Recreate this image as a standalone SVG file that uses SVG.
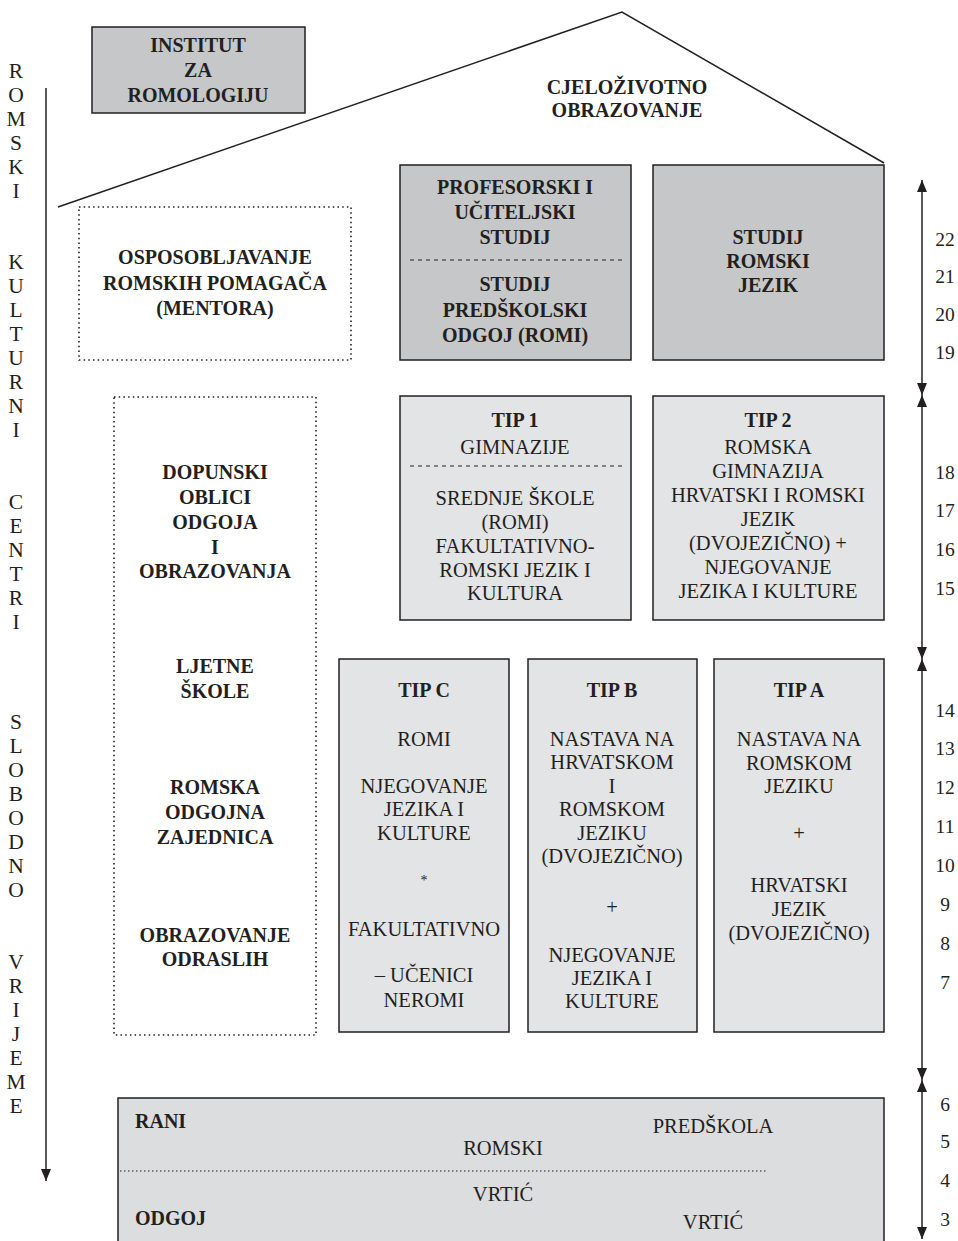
<svg xmlns="http://www.w3.org/2000/svg" width="958" height="1241" viewBox="0 0 958 1241">
<defs>
<style>
text{font-family:"Liberation Serif","DejaVu Serif",serif;fill:#231f20;font-size:20.5px}
.c{text-anchor:middle}
.b{font-weight:bold;font-size:20px}
.v{text-anchor:middle;font-size:21.5px}
.n{text-anchor:middle;font-size:19.5px}
.dark{fill:#c6c7c9;stroke:#231f20;stroke-width:1.5}
.light{fill:#e3e4e6;stroke:#231f20;stroke-width:1.5}
.dot{fill:none;stroke:#231f20;stroke-width:1.6;stroke-dasharray:1.5 3.2}
.dash{stroke:#231f20;stroke-width:1.2;stroke-dasharray:4 4}
.ln{stroke:#231f20;stroke-width:1.5;fill:none}
</style>
<marker id="ah" viewBox="0 0 12 10" refX="12" refY="5" markerWidth="12" markerHeight="10" markerUnits="userSpaceOnUse" orient="auto-start-reverse">
<path d="M0,0 L12,5 L0,10 z" fill="#231f20"/>
</marker>
</defs>

<g id="connectors">
<polyline class="ln" points="58,207 622,12 884,163"/>
<line class="ln" x1="46" y1="88" x2="46" y2="1181" marker-end="url(#ah)"/>
<line class="ln" x1="922" y1="180" x2="922" y2="395" marker-start="url(#ah)" marker-end="url(#ah)"/>
<line class="ln" x1="922" y1="395" x2="922" y2="659" marker-start="url(#ah)" marker-end="url(#ah)"/>
<line class="ln" x1="922" y1="659" x2="922" y2="1080" marker-start="url(#ah)" marker-end="url(#ah)"/>
<line class="ln" x1="922" y1="1080" x2="922" y2="1239" marker-start="url(#ah)" marker-end="url(#ah)"/>
</g>

<g id="side-left">
<text class="v" x="16" y="78">R</text>
<text class="v" x="16" y="102">O</text>
<text class="v" x="16" y="126">M</text>
<text class="v" x="16" y="150">S</text>
<text class="v" x="16" y="174">K</text>
<text class="v" x="16" y="198">I</text>
<text class="v" x="16" y="269">K</text>
<text class="v" x="16" y="293">U</text>
<text class="v" x="16" y="317">L</text>
<text class="v" x="16" y="341">T</text>
<text class="v" x="16" y="365">U</text>
<text class="v" x="16" y="389">R</text>
<text class="v" x="16" y="413">N</text>
<text class="v" x="16" y="437">I</text>
<text class="v" x="16" y="509">C</text>
<text class="v" x="16" y="533">E</text>
<text class="v" x="16" y="557">N</text>
<text class="v" x="16" y="581">T</text>
<text class="v" x="16" y="605">R</text>
<text class="v" x="16" y="629">I</text>
<text class="v" x="16" y="729">S</text>
<text class="v" x="16" y="753">L</text>
<text class="v" x="16" y="777">O</text>
<text class="v" x="16" y="801">B</text>
<text class="v" x="16" y="825">O</text>
<text class="v" x="16" y="849">D</text>
<text class="v" x="16" y="873">N</text>
<text class="v" x="16" y="897">O</text>
<text class="v" x="16" y="969">V</text>
<text class="v" x="16" y="993">R</text>
<text class="v" x="16" y="1017">I</text>
<text class="v" x="16" y="1041">J</text>
<text class="v" x="16" y="1065">E</text>
<text class="v" x="16" y="1089">M</text>
<text class="v" x="16" y="1113">E</text>
</g>

<g id="ages">
<text class="n" x="945" y="246">22</text>
<text class="n" x="945" y="283">21</text>
<text class="n" x="945" y="321">20</text>
<text class="n" x="945" y="359">19</text>
<text class="n" x="945" y="479">18</text>
<text class="n" x="945" y="517">17</text>
<text class="n" x="945" y="556">16</text>
<text class="n" x="945" y="595">15</text>
<text class="n" x="945" y="717">14</text>
<text class="n" x="945" y="755">13</text>
<text class="n" x="945" y="794">12</text>
<text class="n" x="945" y="833">11</text>
<text class="n" x="945" y="872">10</text>
<text class="n" x="945" y="911">9</text>
<text class="n" x="945" y="950">8</text>
<text class="n" x="945" y="989">7</text>
<text class="n" x="945" y="1111">6</text>
<text class="n" x="945" y="1148">5</text>
<text class="n" x="945" y="1187">4</text>
<text class="n" x="945" y="1226">3</text>
</g>

<g id="institut">
<rect class="dark" x="92" y="27" width="213" height="86"/>
<text class="c b" x="198" y="52">INSTITUT</text>
<text class="c b" x="198" y="77">ZA</text>
<text class="c b" x="198" y="102">ROMOLOGIJU</text>
</g>

<g id="cjelozivotno">
<text class="c b" x="627" y="94">CJELOŽIVOTNO</text>
<text class="c b" x="627" y="117">OBRAZOVANJE</text>
</g>

<g id="osposobljavanje">
<rect class="dot" x="79" y="207" width="272" height="153"/>
<text class="c b" x="215" y="264">OSPOSOBLJAVANJE</text>
<text class="c b" x="215" y="290">ROMSKIH POMAGAČA</text>
<text class="c b" x="215" y="315">(MENTORA)</text>
</g>

<g id="dopunski">
<rect class="dot" x="114" y="397" width="202" height="638"/>
<text class="c b" x="215" y="479">DOPUNSKI</text>
<text class="c b" x="215" y="504">OBLICI</text>
<text class="c b" x="215" y="529">ODGOJA</text>
<text class="c b" x="215" y="554">I</text>
<text class="c b" x="215" y="578">OBRAZOVANJA</text>
<text class="c b" x="215" y="673">LJETNE</text>
<text class="c b" x="215" y="698">ŠKOLE</text>
<text class="c b" x="215" y="794">ROMSKA</text>
<text class="c b" x="215" y="819">ODGOJNA</text>
<text class="c b" x="215" y="844">ZAJEDNICA</text>
<text class="c b" x="215" y="942">OBRAZOVANJE</text>
<text class="c b" x="215" y="966">ODRASLIH</text>
</g>

<g id="profesorski">
<rect class="dark" x="400" y="165" width="231" height="195"/>
<text class="c b" x="515" y="194">PROFESORSKI I</text>
<text class="c b" x="515" y="219">UČITELJSKI</text>
<text class="c b" x="515" y="244">STUDIJ</text>
<line class="dash" x1="410" y1="260" x2="622" y2="260"/>
<text class="c b" x="515" y="291">STUDIJ</text>
<text class="c b" x="515" y="317">PREDŠKOLSKI</text>
<text class="c b" x="515" y="342">ODGOJ (ROMI)</text>
</g>

<g id="studij-romski">
<rect class="dark" x="653" y="165" width="231" height="195"/>
<text class="c b" x="768" y="244">STUDIJ</text>
<text class="c b" x="768" y="268">ROMSKI</text>
<text class="c b" x="768" y="292">JEZIK</text>
</g>

<g id="tip1">
<rect class="light" x="400" y="396" width="231" height="224"/>
<text class="c b" x="515" y="427">TIP 1</text>
<text class="c" x="515" y="454">GIMNAZIJE</text>
<line class="dash" x1="410" y1="466" x2="622" y2="466"/>
<text class="c" x="515" y="505">SREDNJE ŠKOLE</text>
<text class="c" x="515" y="529">(ROMI)</text>
<text class="c" x="515" y="553">FAKULTATIVNO-</text>
<text class="c" x="515" y="577">ROMSKI JEZIK I</text>
<text class="c" x="515" y="600">KULTURA</text>
</g>

<g id="tip2">
<rect class="light" x="653" y="396" width="231" height="224"/>
<text class="c b" x="768" y="427">TIP 2</text>
<text class="c" x="768" y="454">ROMSKA</text>
<text class="c" x="768" y="478">GIMNAZIJA</text>
<text class="c" x="768" y="502">HRVATSKI I ROMSKI</text>
<text class="c" x="768" y="526">JEZIK</text>
<text class="c" x="768" y="550">(DVOJEZIČNO) +</text>
<text class="c" x="768" y="574">NJEGOVANJE</text>
<text class="c" x="768" y="598">JEZIKA I KULTURE</text>
</g>

<g id="tipC">
<rect class="light" x="339" y="659" width="170" height="373"/>
<text class="c b" x="424" y="697">TIP C</text>
<text class="c" x="424" y="746">ROMI</text>
<text class="c" x="424" y="793">NJEGOVANJE</text>
<text class="c" x="424" y="816">JEZIKA I</text>
<text class="c" x="424" y="840">KULTURE</text>
<text class="c" x="424" y="885" style="font-size:14px">*</text>
<text class="c" x="424" y="936">FAKULTATIVNO</text>
<text class="c" x="424" y="982">– UČENICI</text>
<text class="c" x="424" y="1007">NEROMI</text>
</g>

<g id="tipB">
<rect class="light" x="528" y="659" width="169" height="373"/>
<text class="c b" x="612" y="697">TIP B</text>
<text class="c" x="612" y="746">NASTAVA NA</text>
<text class="c" x="612" y="769">HRVATSKOM</text>
<text class="c" x="612" y="793">I</text>
<text class="c" x="612" y="816">ROMSKOM</text>
<text class="c" x="612" y="840">JEZIKU</text>
<text class="c" x="612" y="863">(DVOJEZIČNO)</text>
<text class="c" x="612" y="914">+</text>
<text class="c" x="612" y="962">NJEGOVANJE</text>
<text class="c" x="612" y="985">JEZIKA I</text>
<text class="c" x="612" y="1008">KULTURE</text>
</g>

<g id="tipA">
<rect class="light" x="714" y="659" width="170" height="373"/>
<text class="c b" x="799" y="697">TIP A</text>
<text class="c" x="799" y="746">NASTAVA NA</text>
<text class="c" x="799" y="770">ROMSKOM</text>
<text class="c" x="799" y="793">JEZIKU</text>
<text class="c" x="799" y="840">+</text>
<text class="c" x="799" y="892">HRVATSKI</text>
<text class="c" x="799" y="916">JEZIK</text>
<text class="c" x="799" y="940">(DVOJEZIČNO)</text>
</g>

<g id="rani-odgoj">
<rect x="118" y="1098" width="766" height="160" fill="#dcdddf" stroke="#231f20" stroke-width="1.5"/>
<text class="b" x="135" y="1128">RANI</text>
<text class="c" x="713" y="1133">PREDŠKOLA</text>
<text class="c" x="503" y="1155">ROMSKI</text>
<line x1="120" y1="1171" x2="768" y2="1171" stroke="#231f20" stroke-width="1.2" stroke-dasharray="1.5 2.5"/>
<text class="c" x="503" y="1201">VRTIĆ</text>
<text class="b" x="135" y="1225">ODGOJ</text>
<text class="c" x="713" y="1229">VRTIĆ</text>
</g>
</svg>
